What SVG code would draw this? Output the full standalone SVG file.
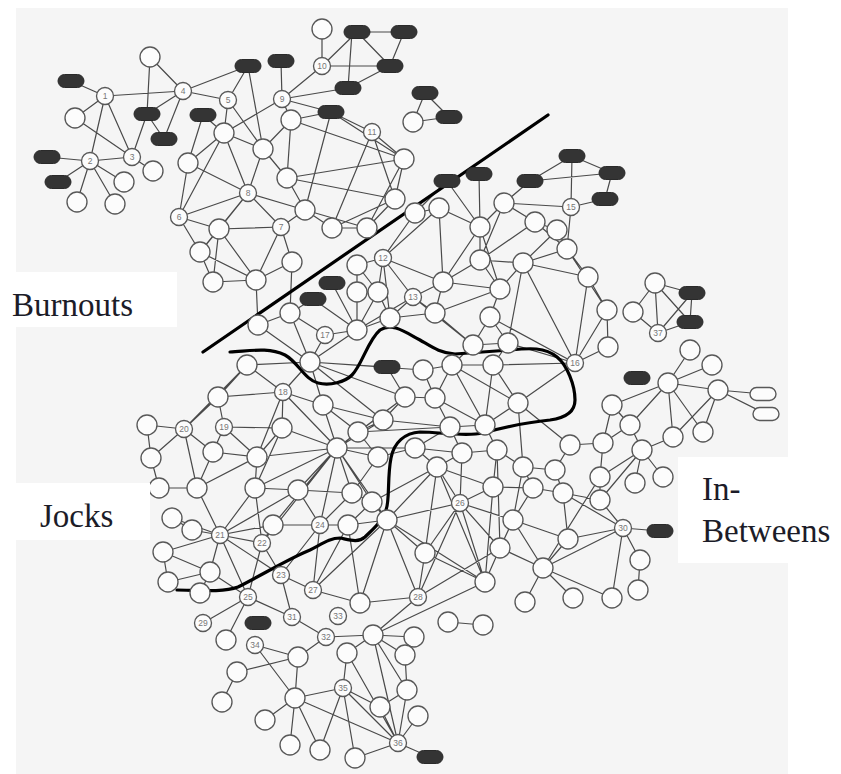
<svg xmlns="http://www.w3.org/2000/svg" width="841" height="774" viewBox="0 0 841 774">
<defs>
<style>
#edges path{stroke:#4a4a4a;stroke-width:1.2;fill:none}
#nodes circle{fill:#fcfcfc;stroke:#585858;stroke-width:1.35}
#nodes .dk{fill:#343434;stroke:#2a2a2a;stroke-width:1}
#nodes .op{fill:#fcfcfc;stroke:#585858;stroke-width:1.35}
#nodes text{font-family:"Liberation Sans",Arial,sans-serif;font-size:8.5px;fill:#777;text-anchor:middle}
.grp{font-family:"Liberation Serif","Times New Roman",serif;font-size:33px;fill:#1c1c28}
.bound{stroke:#000;stroke-width:3.2;fill:none;stroke-linecap:round;stroke-linejoin:round}
</style>
</defs>
<rect width="841" height="774" fill="#fff"/>
<rect x="16" y="8" width="772" height="766" fill="#f5f5f5"/>

<g id="edges">
<path d="M71 81L105 96M105 96L183 91M150 57L183 91M150 57L147 114M183 91L147 114M183 91L164 139M147 114L164 139M105 96L75 118M105 96L90 161M105 96L132 157M75 118L132 157M132 157L147 114M90 161L132 157M90 161L47 157M90 161L58 182M90 161L124 182M90 161L77 202M90 161L115 204M132 157L153 171M183 91L228 100M183 91L248 66M203 115L188 163M203 115L224 133"/>
<path d="M322 29L322 66M322 66L357 32M322 66L390 66M357 32L404 32M357 32L390 66M404 32L390 66M352 32L348 88M390 66L348 88M322 66L282 99M281 61L282 99M282 99L348 88M282 99L331 112M282 99L224 133M282 99L291 120M248 66L228 100M248 66L263 149M228 100L224 133M228 100L263 149M331 112L291 120M331 112L372 132M331 112L305 210M331 112L404 159M291 120L287 178M291 120L404 159M291 120L263 149M224 133L248 193M224 133L188 163M224 133L179 217M224 133L263 149M263 149L248 193M263 149L287 178M248 193L179 217M248 193L188 163M248 193L219 229M248 193L281 227M248 193L305 210M248 193L200 252M287 178L404 159M287 178L305 210M287 178L395 199M372 132L404 159M372 132L395 199M372 132L332 228M404 159L395 199M404 159L367 228M305 210L332 228M305 210L367 228M332 228L367 228M367 228L395 199M332 228L395 199M281 227L219 229M281 227L256 280M281 227L292 262M219 229L200 252M219 229L179 217M200 252L213 282M219 229L256 280M213 282L256 280M256 280L292 262M200 252L256 280M188 163L179 217M179 217L200 252M281 227L305 210M213 282L219 229"/>
<path d="M425 93L413 122M425 93L449 117M413 122L449 117M572 156L612 173M572 156L530 181M572 156L571 207M530 181L612 173M612 173L605 199M571 207L605 199M504 203L571 207M530 181L504 203M479 174L480 227M447 181L480 227M447 181L415 213M415 213L439 208M439 208L480 227M439 208L383 258M504 203L480 227M504 203L535 222M535 222L557 230M557 230L567 249M535 222L567 249M571 207L567 249M504 203L480 260M480 227L480 260M480 227L443 282M480 227L500 289M439 208L443 282M415 213L383 258M383 258L357 265M383 258L378 292M383 258L413 297M383 258L443 282M383 258L390 318M357 265L357 292M357 292L378 292M357 265L378 292M378 292L390 318M413 297L443 282M413 297L435 313M413 297L473 345M443 282L480 260M443 282L435 313M480 260L523 263M480 260L500 289M523 263L567 249M523 263L500 289M523 263L588 277M523 263L575 363M588 277L607 310M607 310L608 347M588 277L575 363M608 347L575 363M607 310L575 363M500 289L490 317M500 289L435 313M490 317L473 345M490 317L508 343M473 345L508 343M508 343L575 363M490 317L575 363M435 313L473 345M557 230L523 263M567 249L588 277M523 263L508 343M443 282L500 289M413 297L390 318M567 249L607 310M535 222L480 260"/>
<path d="M332 283L357 330M313 299L357 330M313 299L290 313M290 313L258 325M290 313L325 335M290 313L310 362M258 325L310 362M325 335L310 362M325 335L357 330M357 292L357 330M378 292L357 330M390 318L357 330M357 330L310 362M390 318L435 313M357 330L413 297M292 262L290 313M256 280L258 325M310 362L405 397M310 362L383 420M310 362L423 370M310 362L387 367M387 367L405 397M405 397L383 420M423 370L452 365M452 365L493 365M452 365L435 398M452 365L485 425M493 365L518 403M493 365L485 425M435 398L485 425M435 398L450 427M518 403L485 425M423 370L435 398M493 365L575 363M452 365L518 403M450 427L485 425M450 427L383 420M518 403L575 363M435 398L405 397M452 365L473 345M493 365L508 343"/>
<path d="M147 425L184 429M147 425L151 458M184 429L247 365M184 429L213 452M184 429L197 488M184 429L151 458M151 458L159 488M159 488L197 488M197 488L213 452M213 452L224 427M224 427L218 397M224 427L282 428M218 397L247 365M218 397L283 392M247 365L283 392M247 365L310 362M283 392L282 428M283 392L323 405M283 392L337 448M283 392L310 362M282 428L257 457M282 428L337 448M282 428L255 488M257 457L255 488M257 457L197 488M257 457L337 448M255 488L298 490M298 490L337 448M298 490L352 493M337 448L323 405M337 448L358 432M337 448L378 457M337 448L352 493M337 448L372 502M337 448L320 525M337 448L262 543M337 448L255 488M337 448L415 448M337 448L387 520M337 448L405 397M337 448L383 420M337 448L273 525M323 405L358 432M358 432L405 397M358 432L383 420M358 432L378 457M378 457L415 448M352 493L372 502M352 493L320 525M372 502L348 525M372 502L387 520M320 525L273 525M320 525L348 525M273 525L220 535M220 535L172 518M220 535L192 530M220 535L262 543M220 535L210 572M262 543L273 525M220 535L255 488M220 535L298 490M220 535L197 488M192 530L172 518M163 552L210 572M168 582L210 572M168 582L163 552M210 572L200 593M218 397L184 429M323 405L310 362M323 405L383 420M298 490L320 525M255 488L262 543M257 457L224 427M213 452L257 457M283 392L257 457M163 552L220 535M352 493L378 457M372 502L437 467M358 432L450 427M348 525L387 520"/>
<path d="M281 575L262 543M281 575L313 590M281 575L292 617M281 575L320 525M281 575L220 535M248 597L220 535M248 597L210 572M248 597L203 623M248 597L226 640M248 597L292 617M248 597L262 543M313 590L360 603M313 590L320 525M313 590L387 520M313 590L348 525M360 603L418 597M360 603L387 520M360 603L348 525M292 617L326 637M326 637L373 635M326 637L298 657M373 635L414 637M373 635L405 655M373 635L418 597M373 635L485 582M373 635L407 690M373 635L398 743M373 635L347 653M347 653L343 688M347 653L398 743M255 645L298 657M255 645L295 698M237 672L298 657M237 672L222 702M298 657L295 698M295 698L343 688M295 698L265 720M295 698L290 745M295 698L320 750M295 698L398 743M343 688L380 707M343 688L398 743M343 688L320 750M343 688L355 758M380 707L407 690M380 707L398 743M407 690L398 743M418 716L398 743M398 743L355 758M398 743L430 757M405 655L407 690"/>
<path d="M387 520L437 467M387 520L425 553M387 520L460 503M415 448L437 467M415 448L462 453M437 467L462 453M437 467L493 487M437 467L460 503M462 453L497 450M462 453L460 503M497 450L523 467M497 450L493 487M523 467L533 488M523 467L555 470M555 470L570 445M555 470L563 493M570 445L603 443M603 443L612 405M603 443L600 477M600 477L600 500M493 487L533 488M493 487L460 503M533 488L563 493M563 493L600 500M600 500L623 528M460 503L513 520M460 503L425 553M460 503L500 548M460 503L485 582M460 503L418 597M513 520L568 539M513 520L500 548M513 520L543 568M568 539L623 528M568 539L543 568M568 539L563 493M500 548L543 568M500 548L485 582M543 568L525 602M543 568L573 598M543 568L623 528M543 568L612 598M485 582L425 553M425 553L418 597M418 597L500 548M623 528L660 531M623 528L640 560M623 528L612 598M640 560L638 590M448 622L483 625M485 582L493 487M485 582L387 520M485 582L437 467M425 553L437 467M500 548L497 450M513 520L523 467M513 520L533 488M543 568L600 477M563 493L623 528M415 448L450 427M462 453L450 427M497 450L485 425M523 467L518 403M570 445L518 403M418 597L387 520"/>
<path d="M655 283L692 293M655 283L633 312M655 283L658 333M655 283L690 322M633 312L658 333M658 333L692 293M658 333L690 322M692 293L690 322M668 383L690 350M668 383L712 365M668 383L718 390M668 383L630 425M668 383L673 437M668 383L703 432M718 390L763 394M718 390L766 414M718 390L673 437M718 390L703 432M630 425L642 450M642 450L673 437M642 450L635 483M642 450L663 477M642 450L600 477M603 443L630 425M668 383L612 405M630 425L612 405M642 450L600 500"/>
</g>

<g id="boundaries">
<path id="burnout-line" class="bound" d="M203 352L548 115"/>
<path id="jock-curve" class="bound" d="M230 352C250 351 268 347 285 355C298 362 305 380 318 383C330 386 345 382 352 375C362 365 368 340 380 330C392 322 405 332 420 340C432 347 440 353 455 354L510 350C530 348 545 347 557 357C567 365 575 385 575 400C575 412 565 418 550 420C530 422 505 427 483 433C465 437 440 432 420 432C405 433 394 442 391 458C387 478 390 500 386 510C382 522 372 530 365 537C358 543 350 540 340 538C330 538 322 544 310 550C290 558 262 575 238 587C222 593 195 590 177 590"/>
</g>

<g id="nodes">
<g id="a1"><circle cx="105" cy="96" r="8.5"/><text x="105" y="99">1</text></g>
<g id="a2"><circle cx="90" cy="161" r="8.5"/><text x="90" y="164">2</text></g>
<g id="a3"><circle cx="132" cy="157" r="8.5"/><text x="132" y="160">3</text></g>
<g id="a4"><circle cx="183" cy="91" r="8.5"/><text x="183" y="94">4</text></g>
<g id="a5"><circle cx="150" cy="57" r="10"/></g>
<g id="a6"><circle cx="75" cy="118" r="10"/></g>
<g id="a7"><circle cx="153" cy="171" r="10"/></g>
<g id="a8"><circle cx="124" cy="182" r="10"/></g>
<g id="a9"><circle cx="77" cy="202" r="10"/></g>
<g id="a10"><circle cx="115" cy="204" r="10"/></g>
<g id="ap1"><rect class="dk" x="58" y="74.5" width="26" height="13" rx="6.5"/></g>
<g id="ap2"><rect class="dk" x="134" y="107.5" width="26" height="13" rx="6.5"/></g>
<g id="ap3"><rect class="dk" x="190" y="108.5" width="26" height="13" rx="6.5"/></g>
<g id="ap4"><rect class="dk" x="151" y="132.5" width="26" height="13" rx="6.5"/></g>
<g id="ap5"><rect class="dk" x="34" y="150.5" width="26" height="13" rx="6.5"/></g>
<g id="ap6"><rect class="dk" x="45" y="175.5" width="26" height="13" rx="6.5"/></g>

<g id="b5"><circle cx="228" cy="100" r="8.5"/><text x="228" y="103">5</text></g>
<g id="b9"><circle cx="282" cy="99" r="8.5"/><text x="282" y="102">9</text></g>
<g id="b10"><circle cx="322" cy="66" r="8.5"/><text x="322" y="69">10</text></g>
<g id="b6"><circle cx="179" cy="217" r="8.5"/><text x="179" y="220">6</text></g>
<g id="b7"><circle cx="281" cy="227" r="8.5"/><text x="281" y="230">7</text></g>
<g id="b8"><circle cx="248" cy="193" r="8.5"/><text x="248" y="196">8</text></g>
<g id="b11"><circle cx="372" cy="132" r="8.5"/><text x="372" y="135">11</text></g>
<g id="bt"><circle cx="322" cy="29" r="10"/></g>
<g id="bp1"><rect class="dk" x="235" y="59.5" width="26" height="13" rx="6.5"/></g>
<g id="bp2"><rect class="dk" x="268" y="54.5" width="26" height="13" rx="6.5"/></g>
<g id="bp3"><rect class="dk" x="344" y="25.5" width="26" height="13" rx="6.5"/></g>
<g id="bp4"><rect class="dk" x="391" y="25.5" width="26" height="13" rx="6.5"/></g>
<g id="bp5"><rect class="dk" x="377" y="59.5" width="26" height="13" rx="6.5"/></g>
<g id="bp6"><rect class="dk" x="335" y="81.5" width="26" height="13" rx="6.5"/></g>
<g id="bp7"><rect class="dk" x="318" y="105.5" width="26" height="13" rx="6.5"/></g>
<g id="b1"><circle cx="188" cy="163" r="10"/></g>
<g id="b2"><circle cx="224" cy="133" r="10"/></g>
<g id="b3"><circle cx="291" cy="120" r="10"/></g>
<g id="b4"><circle cx="263" cy="149" r="10"/></g>
<g id="b12"><circle cx="404" cy="159" r="10"/></g>
<g id="b13"><circle cx="287" cy="178" r="10"/></g>
<g id="b14"><circle cx="395" cy="199" r="10"/></g>
<g id="b15"><circle cx="305" cy="210" r="10"/></g>
<g id="b16"><circle cx="219" cy="229" r="10"/></g>
<g id="b17"><circle cx="332" cy="228" r="10"/></g>
<g id="b18"><circle cx="367" cy="228" r="10"/></g>
<g id="b19"><circle cx="200" cy="252" r="10"/></g>
<g id="b20"><circle cx="213" cy="282" r="10"/></g>
<g id="b21"><circle cx="256" cy="280" r="10"/></g>
<g id="b22"><circle cx="292" cy="262" r="10"/></g>

<g id="cp1"><rect class="dk" x="412" y="86.5" width="26" height="13" rx="6.5"/></g>
<g id="cp2"><rect class="dk" x="436" y="110.5" width="26" height="13" rx="6.5"/></g>
<g id="c0"><circle cx="413" cy="122" r="10"/></g>
<g id="cp3"><rect class="dk" x="434" y="174.5" width="26" height="13" rx="6.5"/></g>
<g id="cp4"><rect class="dk" x="466" y="167.5" width="26" height="13" rx="6.5"/></g>
<g id="cp5"><rect class="dk" x="517" y="174.5" width="26" height="13" rx="6.5"/></g>
<g id="cp6"><rect class="dk" x="559" y="149.5" width="26" height="13" rx="6.5"/></g>
<g id="cp7"><rect class="dk" x="599" y="166.5" width="26" height="13" rx="6.5"/></g>
<g id="cp8"><rect class="dk" x="592" y="192.5" width="26" height="13" rx="6.5"/></g>
<g id="c15"><circle cx="571" cy="207" r="8.5"/><text x="571" y="210">15</text></g>
<g id="c1"><circle cx="504" cy="203" r="10"/></g>
<g id="c2"><circle cx="439" cy="208" r="10"/></g>
<g id="c3"><circle cx="480" cy="227" r="10"/></g>
<g id="c4"><circle cx="535" cy="222" r="10"/></g>
<g id="c5"><circle cx="557" cy="230" r="10"/></g>
<g id="c6"><circle cx="567" cy="249" r="10"/></g>
<g id="c7"><circle cx="415" cy="213" r="10"/></g>
<g id="c12"><circle cx="383" cy="258" r="8.5"/><text x="383" y="261">12</text></g>
<g id="c13"><circle cx="413" cy="297" r="8.5"/><text x="413" y="300">13</text></g>
<g id="c8"><circle cx="357" cy="265" r="10"/></g>
<g id="c9"><circle cx="357" cy="292" r="10"/></g>
<g id="c10"><circle cx="378" cy="292" r="10"/></g>
<g id="c11"><circle cx="390" cy="318" r="10"/></g>
<g id="c14"><circle cx="443" cy="282" r="10"/></g>
<g id="c16"><circle cx="480" cy="260" r="10"/></g>
<g id="c17"><circle cx="523" cy="263" r="10"/></g>
<g id="c18"><circle cx="588" cy="277" r="10"/></g>
<g id="c19"><circle cx="607" cy="310" r="10"/></g>
<g id="c20"><circle cx="608" cy="347" r="10"/></g>
<g id="c21"><circle cx="575" cy="363" r="8.5"/><text x="575" y="366">16</text></g>
<g id="c22"><circle cx="500" cy="289" r="10"/></g>
<g id="c23"><circle cx="435" cy="313" r="10"/></g>
<g id="c24"><circle cx="490" cy="317" r="10"/></g>
<g id="c25"><circle cx="473" cy="345" r="10"/></g>
<g id="c26"><circle cx="508" cy="343" r="10"/></g>

<g id="d1"><circle cx="290" cy="313" r="10"/></g>
<g id="d2"><circle cx="258" cy="325" r="10"/></g>
<g id="d17"><circle cx="325" cy="335" r="8.5"/><text x="325" y="338">17</text></g>
<g id="d3"><circle cx="357" cy="330" r="10"/></g>
<g id="dp1"><rect class="dk" x="319" y="276.5" width="26" height="13" rx="6.5"/></g>
<g id="dp2"><rect class="dk" x="300" y="292.5" width="26" height="13" rx="6.5"/></g>
<g id="d4"><circle cx="310" cy="362" r="10"/></g>
<g id="d6"><circle cx="423" cy="370" r="10"/></g>
<g id="d7"><circle cx="452" cy="365" r="10"/></g>
<g id="d8"><circle cx="493" cy="365" r="10"/></g>
<g id="d9"><circle cx="435" cy="398" r="10"/></g>
<g id="d10"><circle cx="518" cy="403" r="10"/></g>
<g id="d11"><circle cx="485" cy="425" r="10"/></g>
<g id="d12"><circle cx="450" cy="427" r="10"/></g>
<g id="d13"><circle cx="405" cy="397" r="10"/></g>
<g id="d14"><circle cx="383" cy="420" r="10"/></g>
<g id="dp3"><rect class="dk" x="374" y="360.5" width="26" height="13" rx="6.5"/></g>

<g id="j1"><circle cx="147" cy="425" r="10"/></g>
<g id="j20"><circle cx="184" cy="429" r="8.5"/><text x="184" y="432">20</text></g>
<g id="j2"><circle cx="151" cy="458" r="10"/></g>
<g id="j3"><circle cx="159" cy="488" r="10"/></g>
<g id="j4"><circle cx="197" cy="488" r="10"/></g>
<g id="j5"><circle cx="213" cy="452" r="10"/></g>
<g id="j19"><circle cx="224" cy="427" r="8.5"/><text x="224" y="430">19</text></g>
<g id="j6"><circle cx="218" cy="397" r="10"/></g>
<g id="j7"><circle cx="247" cy="365" r="10"/></g>
<g id="j18"><circle cx="283" cy="392" r="8.5"/><text x="283" y="395">18</text></g>
<g id="j8"><circle cx="282" cy="428" r="10"/></g>
<g id="j9"><circle cx="257" cy="457" r="10"/></g>
<g id="j10"><circle cx="255" cy="488" r="10"/></g>
<g id="j11"><circle cx="298" cy="490" r="10"/></g>
<g id="j12"><circle cx="323" cy="405" r="10"/></g>
<g id="j13"><circle cx="337" cy="448" r="10"/></g>
<g id="j14"><circle cx="358" cy="432" r="10"/></g>
<g id="j15"><circle cx="378" cy="457" r="10"/></g>
<g id="j16"><circle cx="352" cy="493" r="10"/></g>
<g id="j17"><circle cx="372" cy="502" r="10"/></g>
<g id="j21"><circle cx="220" cy="535" r="8.5"/><text x="220" y="538">21</text></g>
<g id="j22"><circle cx="262" cy="543" r="8.5"/><text x="262" y="546">22</text></g>
<g id="j23"><circle cx="273" cy="525" r="10"/></g>
<g id="j24"><circle cx="320" cy="525" r="8.5"/><text x="320" y="528">24</text></g>
<g id="j25"><circle cx="348" cy="525" r="10"/></g>
<g id="j26"><circle cx="172" cy="518" r="10"/></g>
<g id="j27"><circle cx="192" cy="530" r="10"/></g>
<g id="j28"><circle cx="163" cy="552" r="10"/></g>
<g id="j29"><circle cx="168" cy="582" r="10"/></g>
<g id="j30"><circle cx="210" cy="572" r="10"/></g>
<g id="j31"><circle cx="200" cy="593" r="10"/></g>

<g id="k23"><circle cx="281" cy="575" r="8.5"/><text x="281" y="578">23</text></g>
<g id="k25"><circle cx="248" cy="597" r="8.5"/><text x="248" y="600">25</text></g>
<g id="k27"><circle cx="313" cy="590" r="8.5"/><text x="313" y="593">27</text></g>
<g id="k29"><circle cx="203" cy="623" r="8.5"/><text x="203" y="626">29</text></g>
<g id="k31"><circle cx="292" cy="617" r="8.5"/><text x="292" y="620">31</text></g>
<g id="k33"><circle cx="338" cy="616" r="8.5"/><text x="338" y="619">33</text></g>
<g id="k32"><circle cx="326" cy="637" r="8.5"/><text x="326" y="640">32</text></g>
<g id="k34"><circle cx="255" cy="645" r="8.5"/><text x="255" y="648">34</text></g>
<g id="kp1"><rect class="dk" x="245" y="616.5" width="26" height="13" rx="6.5"/></g>
<g id="k1"><circle cx="226" cy="640" r="10"/></g>
<g id="k2"><circle cx="360" cy="603" r="10"/></g>
<g id="k3"><circle cx="373" cy="635" r="10"/></g>
<g id="k4"><circle cx="414" cy="637" r="10"/></g>
<g id="k5"><circle cx="405" cy="655" r="10"/></g>
<g id="k6"><circle cx="347" cy="653" r="10"/></g>
<g id="k7"><circle cx="298" cy="657" r="10"/></g>
<g id="k8"><circle cx="237" cy="672" r="10"/></g>
<g id="k9"><circle cx="295" cy="698" r="10"/></g>
<g id="k35"><circle cx="343" cy="688" r="8.5"/><text x="343" y="691">35</text></g>
<g id="k10"><circle cx="407" cy="690" r="10"/></g>
<g id="k11"><circle cx="222" cy="702" r="10"/></g>
<g id="k13"><circle cx="380" cy="707" r="10"/></g>
<g id="k14"><circle cx="418" cy="716" r="10"/></g>
<g id="k15"><circle cx="265" cy="720" r="10"/></g>
<g id="k16"><circle cx="290" cy="745" r="10"/></g>
<g id="k17"><circle cx="320" cy="750" r="10"/></g>
<g id="k18"><circle cx="355" cy="758" r="10"/></g>
<g id="k36"><circle cx="398" cy="743" r="8.5"/><text x="398" y="746">36</text></g>
<g id="kp2"><rect class="dk" x="417" y="750.5" width="26" height="13" rx="6.5"/></g>

<g id="e1"><circle cx="387" cy="520" r="10"/></g>
<g id="e2"><circle cx="415" cy="448" r="10"/></g>
<g id="e3"><circle cx="437" cy="467" r="10"/></g>
<g id="e4"><circle cx="462" cy="453" r="10"/></g>
<g id="e5"><circle cx="497" cy="450" r="10"/></g>
<g id="e6"><circle cx="523" cy="467" r="10"/></g>
<g id="e7"><circle cx="555" cy="470" r="10"/></g>
<g id="e8"><circle cx="600" cy="477" r="10"/></g>
<g id="e9"><circle cx="493" cy="487" r="10"/></g>
<g id="e10"><circle cx="533" cy="488" r="10"/></g>
<g id="e11"><circle cx="563" cy="493" r="10"/></g>
<g id="e12"><circle cx="600" cy="500" r="10"/></g>
<g id="e26"><circle cx="460" cy="503" r="8.5"/><text x="460" y="506">26</text></g>
<g id="e13"><circle cx="513" cy="520" r="10"/></g>
<g id="e14"><circle cx="568" cy="539" r="10"/></g>
<g id="e15"><circle cx="425" cy="553" r="10"/></g>
<g id="e16"><circle cx="500" cy="548" r="10"/></g>
<g id="e17"><circle cx="543" cy="568" r="10"/></g>
<g id="e18"><circle cx="485" cy="582" r="10"/></g>
<g id="e28"><circle cx="418" cy="597" r="8.5"/><text x="418" y="600">28</text></g>
<g id="e19"><circle cx="525" cy="602" r="10"/></g>
<g id="e20"><circle cx="573" cy="598" r="10"/></g>
<g id="e21"><circle cx="612" cy="598" r="10"/></g>
<g id="e30"><circle cx="623" cy="528" r="8.5"/><text x="623" y="531">30</text></g>
<g id="ep1"><rect class="dk" x="647" y="524.5" width="26" height="13" rx="6.5"/></g>
<g id="e22"><circle cx="640" cy="560" r="10"/></g>
<g id="e23"><circle cx="638" cy="590" r="10"/></g>
<g id="e24"><circle cx="448" cy="622" r="10"/></g>
<g id="e25"><circle cx="483" cy="625" r="10"/></g>
<g id="e27"><circle cx="570" cy="445" r="10"/></g>
<g id="e29"><circle cx="603" cy="443" r="10"/></g>
<g id="e31"><circle cx="612" cy="405" r="10"/></g>

<g id="r1"><circle cx="655" cy="283" r="10"/></g>
<g id="rp1"><rect class="dk" x="679" y="286.5" width="26" height="13" rx="6.5"/></g>
<g id="r2"><circle cx="633" cy="312" r="10"/></g>
<g id="r37"><circle cx="658" cy="333" r="8.5"/><text x="658" y="336">37</text></g>
<g id="rp2"><rect class="dk" x="677" y="315.5" width="26" height="13" rx="6.5"/></g>
<g id="r3"><circle cx="690" cy="350" r="10"/></g>
<g id="r4"><circle cx="712" cy="365" r="10"/></g>
<g id="rp3"><rect class="dk" x="624" y="371.5" width="26" height="13" rx="6.5"/></g>
<g id="r5"><circle cx="668" cy="383" r="10"/></g>
<g id="r6"><circle cx="718" cy="390" r="10"/></g>
<g id="ro1"><rect class="op" x="750" y="387.5" width="26" height="13" rx="6.5"/></g>
<g id="ro2"><rect class="op" x="753" y="407.5" width="26" height="13" rx="6.5"/></g>
<g id="r7"><circle cx="630" cy="425" r="10"/></g>
<g id="r8"><circle cx="673" cy="437" r="10"/></g>
<g id="r9"><circle cx="703" cy="432" r="10"/></g>
<g id="r10"><circle cx="642" cy="450" r="10"/></g>
<g id="r11"><circle cx="635" cy="483" r="10"/></g>
<g id="r12"><circle cx="663" cy="477" r="10"/></g>
</g>

<g id="labels">
<rect x="0" y="272" width="177" height="55" fill="#fff"/>
<text class="grp" x="12" y="316">Burnouts</text>
<rect x="0" y="483" width="150" height="57" fill="#fff"/>
<text class="grp" x="40" y="527">Jocks</text>
<rect x="678" y="457" width="163" height="106" fill="#fff"/>
<text class="grp" x="702" y="500">In-</text>
<text class="grp" x="702" y="542">Betweens</text>
</g>
</svg>
